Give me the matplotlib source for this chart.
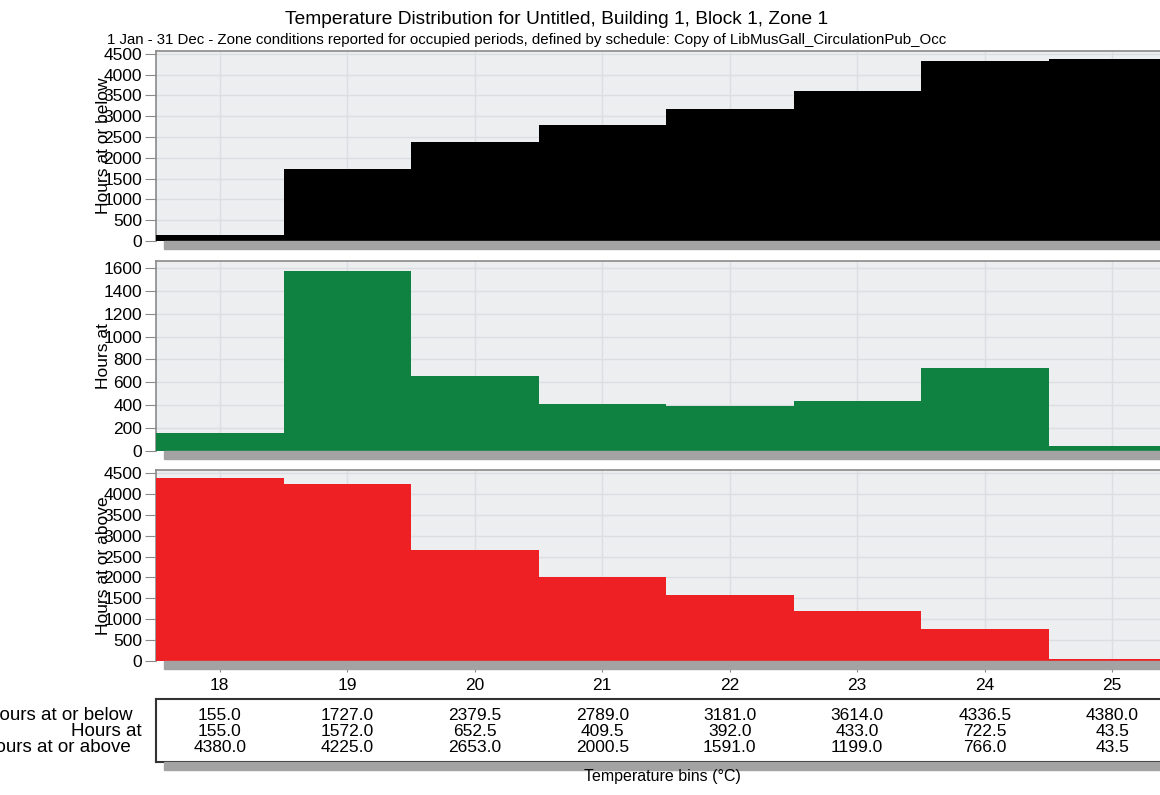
import matplotlib
matplotlib.use("Agg")
import matplotlib.pyplot as plt
from matplotlib.patches import Rectangle

plt.rcParams["font.family"] = ["Liberation Sans", "DejaVu Sans"]

bins = [18, 19, 20, 21, 22, 23, 24, 25]
hours_below = [155.0, 1727.0, 2379.5, 2789.0, 3181.0, 3614.0, 4336.5, 4380.0]
hours_at = [155.0, 1572.0, 652.5, 409.5, 392.0, 433.0, 722.5, 43.5]
hours_above = [4380.0, 4225.0, 2653.0, 2000.5, 1591.0, 1199.0, 766.0, 43.5]

row_labels = ["Hours at or below", "Hours at", "Hours at or above"]
series = [hours_below, hours_at, hours_above]
colors = ["#000000", "#0f8140", "#ee2024"]
ylims = [4570, 1660, 4570]
yticks = [range(0, 4501, 500), range(0, 1601, 200), range(0, 4501, 500)]

W, H = 1160, 795
fig = plt.figure(figsize=(W / 100, H / 100), dpi=100)


def fx(px):
    return px / W


def fy(py):
    return 1 - py / H


left_px, right_px = 156, 1176
panels = [(51, 241), (261, 451), (470, 661)]
shadow = "#a3a3a3"
spine = "#8a8a8a"

for i, (top, bot) in enumerate(panels):
    ax = fig.add_axes([fx(left_px), fy(bot), fx(right_px - left_px), (bot - top) / H])
    ax.set_facecolor("#eceef0")
    ax.bar(bins, series[i], width=1.0, color=colors[i], zorder=3, linewidth=0)
    ax.set_xlim(bins[0] - 0.5, bins[-1] + 0.5)
    ax.set_ylim(0, ylims[i])
    ax.set_yticks(list(yticks[i]))
    ax.set_xticks(bins)
    ax.grid(True, color="#dcdee1", linewidth=1.0, zorder=0)
    for s in ["right", "bottom"]:
        ax.spines[s].set_visible(False)
    for s in ["left", "top"]:
        ax.spines[s].set_color(spine)
        ax.spines[s].set_linewidth(1.2)
    ax.tick_params(axis="y", direction="out", length=8, color=spine, labelsize=12.5, pad=2)
    if i == 2:
        ax.tick_params(axis="x", direction="out", length=8, color=spine, labelsize=12.5, pad=4)
    else:
        ax.tick_params(axis="x", length=0, labelbottom=False)
    # drop shadow under the plot area
    fig.patches.append(Rectangle((fx(left_px + 8), fy(bot + 8)), fx(right_px - left_px), 8 / H,
                                 transform=fig.transFigure, color=shadow, zorder=0))
    fig.text(fx(103), fy((top + bot) / 2), row_labels[i], rotation=90, ha="center", va="center",
             fontsize=12.5)

# summary table under the chart
tab_top, tab_bot = 699, 762
fig.patches.append(Rectangle((fx(left_px + 8), fy(tab_bot + 8)), fx(right_px - left_px), 8 / H,
                             transform=fig.transFigure, color=shadow, zorder=0))
tax = fig.add_axes([fx(left_px), fy(tab_bot), fx(right_px - left_px), (tab_bot - tab_top) / H])
tax.set_xlim(bins[0] - 0.5, bins[-1] + 0.5)
tax.set_ylim(0, 4)
tax.set_xticks([])
tax.set_yticks([])
for s in tax.spines.values():
    s.set_color("#333333")
    s.set_linewidth(1.5)
row_y = [2.95, 1.95, 0.95]
label_x = [133, 142, 131]
for r in range(3):
    for b, v in zip(bins, series[r]):
        tax.text(b, row_y[r], f"{v:.1f}", ha="center", va="center", fontsize=12.5)
    fig.text(fx(label_x[r]), tax.transData.transform((0, row_y[r]))[1] / H, row_labels[r],
             ha="right", va="center", fontsize=13.5)

fig.text(fx(662), fy(776), "Temperature bins (°C)", ha="center", va="center", fontsize=11.5)
fig.text(fx(557), fy(20), "Temperature Distribution for Untitled, Building 1, Block 1, Zone 1",
         ha="center", va="center", fontsize=13.8)
fig.text(fx(527), fy(40), "1 Jan - 31 Dec - Zone conditions reported for occupied periods, "
         "defined by schedule: Copy of LibMusGall_CirculationPub_Occ",
         ha="center", va="center", fontsize=10.8)

fig.savefig("out.png", dpi=100)
